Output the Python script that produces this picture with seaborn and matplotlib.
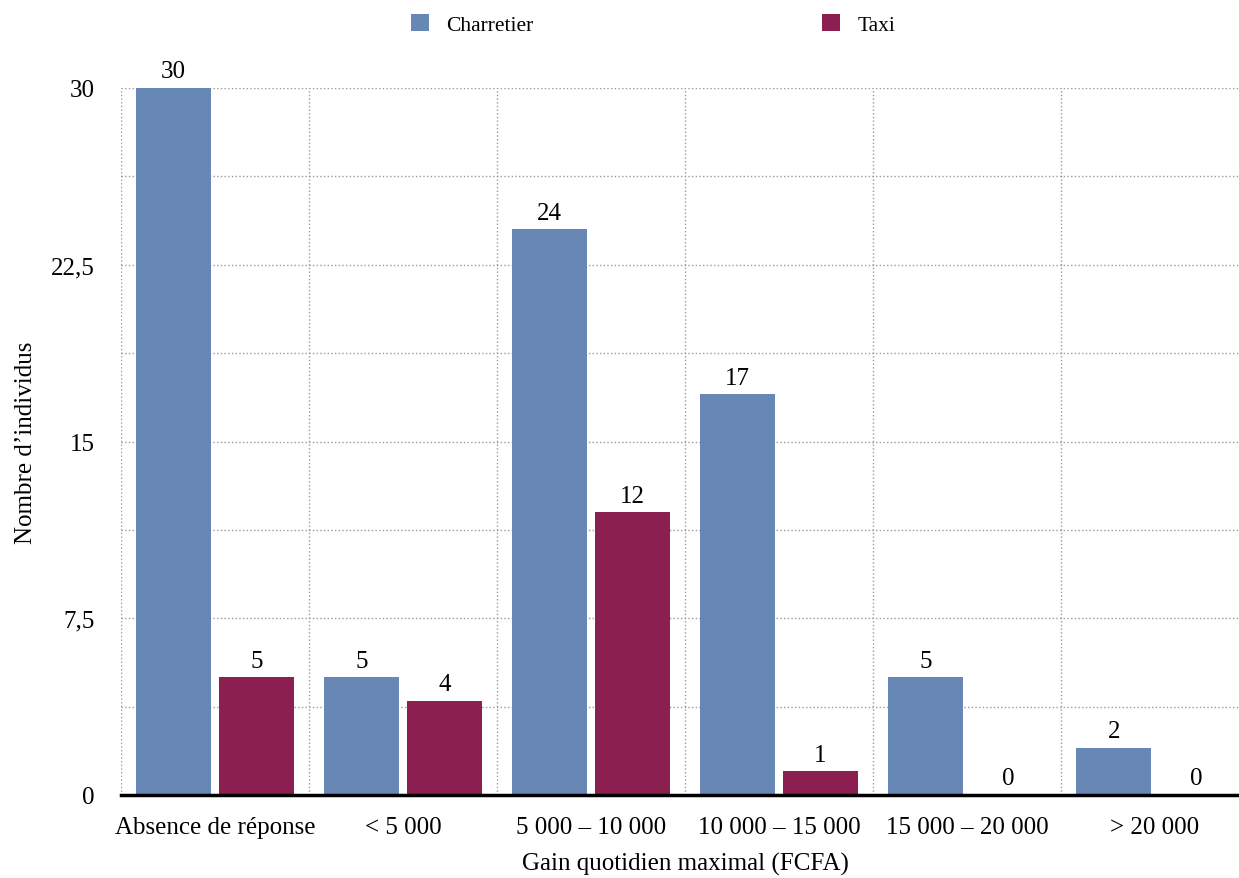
import matplotlib
matplotlib.use('Agg')
import matplotlib.pyplot as plt
import pandas as pd
import seaborn as sns
from matplotlib.ticker import MultipleLocator

categories = ['Absence de réponse', '< 5 000', '5 000 – 10 000',
              '10 000 – 15 000', '15 000 – 20 000', '> 20 000']
charretier = [30, 5, 24, 17, 5, 2]
taxi = [5, 4, 12, 1, 0, 0]
groupes = ['Charretier', 'Taxi']
couleurs = ['#6787b4', '#8b1f4f']
yticks = [0, 7.5, 15, 22.5, 30]
ytick_labels = ['0', '7,5', '15', '22,5', '30']

plt.rcParams['font.family'] = ['Liberation Serif', 'DejaVu Serif']

df = pd.DataFrame({
    'categorie': categories * 2,
    'valeur': charretier + taxi,
    'groupe': [groupes[0]] * len(categories) + [groupes[1]] * len(categories),
})

fig = plt.figure(figsize=(12.39, 8.79), dpi=100)
ax = fig.add_axes([121 / 1239, 1 - 796 / 879, 1128 / 1239, 707 / 879])

sns.barplot(data=df, x='categorie', y='valeur', hue='groupe', order=categories,
            hue_order=groupes, palette=couleurs, width=0.88, gap=0.09,
            linewidth=0, saturation=1, ax=ax)

for c in ax.containers:
    ax.bar_label(c, fmt='%d', padding=4, fontsize=18)

ax.set_ylim(0, 30)
ax.set_xlim(-0.5, 5.5)
ax.set_yticks(yticks)
ax.set_yticklabels(ytick_labels)
ax.yaxis.set_minor_locator(MultipleLocator(3.75))
ax.set_xticks([i - 0.5 for i in range(len(categories) + 1)], minor=True)
ax.set_axisbelow(True)
ax.yaxis.grid(True, which='both', linestyle=':', color='#999999', linewidth=1)
ax.xaxis.grid(True, which='minor', linestyle=':', color='#999999', linewidth=1)
ax.xaxis.grid(False, which='major')
ax.tick_params(which='both', length=0)
ax.tick_params(axis='y', pad=19, labelsize=18)
ax.tick_params(axis='x', pad=15, labelsize=18)

for s in ['top', 'right', 'left']:
    ax.spines[s].set_visible(False)
ax.spines['bottom'].set_linewidth(2.5)
ax.spines['bottom'].set_color('black')

ax.set_xlabel('Gain quotidien maximal (FCFA)', fontsize=18, labelpad=10)
ax.set_ylabel('Nombre d’individus', fontsize=18, labelpad=10)

handles, labels = ax.get_legend_handles_labels()
ax.get_legend().remove()
fig.legend(handles, labels, loc='center', bbox_to_anchor=(0.527, 0.971), ncol=2,
           frameon=False, fontsize=15.5, handlelength=0.85, handleheight=0.85,
           handletextpad=0.8, columnspacing=13.4)

fig.savefig('out.png', dpi=100)
